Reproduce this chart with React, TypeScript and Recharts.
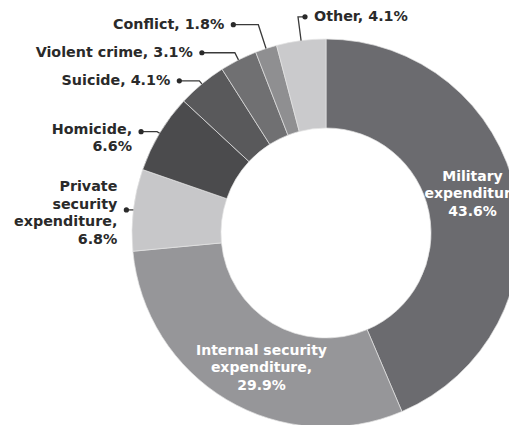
import { PieChart, Pie, Cell } from "recharts";

// share of the global economic impact of violence, %
const categories = [
  "Military expenditure",
  "Internal security expenditure",
  "Private security expenditure",
  "Homicide",
  "Suicide",
  "Violent crime",
  "Conflict",
  "Other",
];
const shares = [43.6, 29.9, 6.8, 6.6, 4.1, 3.1, 1.8, 4.1];

// label text, value is appended ("\n" = line break)
const labelText = [
  "Military\nexpenditure\n",
  "Internal security\nexpenditure,\n",
  "Private\nsecurity\nexpenditure,\n",
  "Homicide,\n",
  "Suicide, ",
  "Violent crime, ",
  "Conflict, ",
  "Other, ",
];

const colors = ["#6b6b6f", "#969699", "#c7c7c9", "#4b4b4d", "#59595b", "#707072", "#8f8f91", "#cacacc"];

// label layout: inside labels sit on the ring, outside ones get an elbow leader
const inside = [true, true, false, false, false, false, false, false];
const leaderOut = [0, 0, 0, 3, 4, 8, 25, 24];
const leaderRun = [0, 0, -7, -16, -20, -33, -25, 7];
const insideNudge = [
  [0, -10],
  [12, 6],
];

const data = categories.map((name, i) => ({ name, value: shares[i], idx: i }));

const RADIAN = Math.PI / 180;
const FONT = "'DejaVu Sans', Verdana, sans-serif";
const LINE_H = 17.6;

function renderLabel(props: any) {
  const { cx, cy, midAngle, innerRadius, outerRadius, index, value } = props;
  const lines = (labelText[index] + value.toFixed(1) + "%").split("\n");
  const cos = Math.cos(-midAngle * RADIAN);
  const sin = Math.sin(-midAngle * RADIAN);

  if (inside[index]) {
    const r = (innerRadius + outerRadius) / 2;
    const x = cx + r * cos + insideNudge[index][0];
    const y = cy + r * sin + insideNudge[index][1];
    const top = y - ((lines.length - 1) * LINE_H) / 2;
    return (
      <text x={x} y={top} fill="#fff" fontFamily={FONT} fontWeight={700} fontSize={14} textAnchor="middle" dominantBaseline="central">
        {lines.map((l, k) => (
          <tspan key={k} x={x} dy={k === 0 ? 0 : LINE_H}>
            {l}
          </tspan>
        ))}
      </text>
    );
  }

  const sx = cx + outerRadius * cos;
  const sy = cy + outerRadius * sin;
  const ex = cx + (outerRadius + leaderOut[index]) * cos;
  const ey = cy + (outerRadius + leaderOut[index]) * sin;
  const dx = ex + leaderRun[index];
  const left = leaderRun[index] < 0;
  const tx = dx + (left ? -9 : 9);
  const anchorLine = Math.floor((lines.length - 1) / 2);
  const top = ey - 1 - anchorLine * (LINE_H + 3) - (lines.length > 1 ? 2 : 0);
  return (
    <g>
      <polyline points={`${sx},${sy} ${ex},${ey} ${dx},${ey}`} fill="none" stroke="#3a3a3a" strokeWidth={1.3} />
      <circle cx={dx} cy={ey} r={2.6} fill="#2a2a2a" />
      <text x={tx} y={top} fill="#2a2a2a" fontFamily={FONT} fontWeight={700} fontSize={14.3} textAnchor={left ? "end" : "start"} dominantBaseline="central">
        {lines.map((l, k) => (
          <tspan key={k} x={tx} dy={k === 0 ? 0 : LINE_H}>
            {l}
          </tspan>
        ))}
      </text>
    </g>
  );
}

export default function App() {
  return (
    <div style={{ position: "absolute", left: 0, top: 0, background: "#fff" }}>
      <PieChart width={509} height={425} margin={{ top: 0, right: 0, bottom: 0, left: 0 }}>
        <Pie
          data={data}
          dataKey="value"
          nameKey="name"
          cx={326}
          cy={233}
          innerRadius={105}
          outerRadius={194}
          startAngle={90}
          endAngle={-270}
          stroke="#e4e4e4"
          strokeWidth={0.7}
          label={renderLabel}
          labelLine={false}
          isAnimationActive={false}
        >
          {data.map((d) => (
            <Cell key={d.name} fill={colors[d.idx]} />
          ))}
        </Pie>
      </PieChart>
    </div>
  );
}
